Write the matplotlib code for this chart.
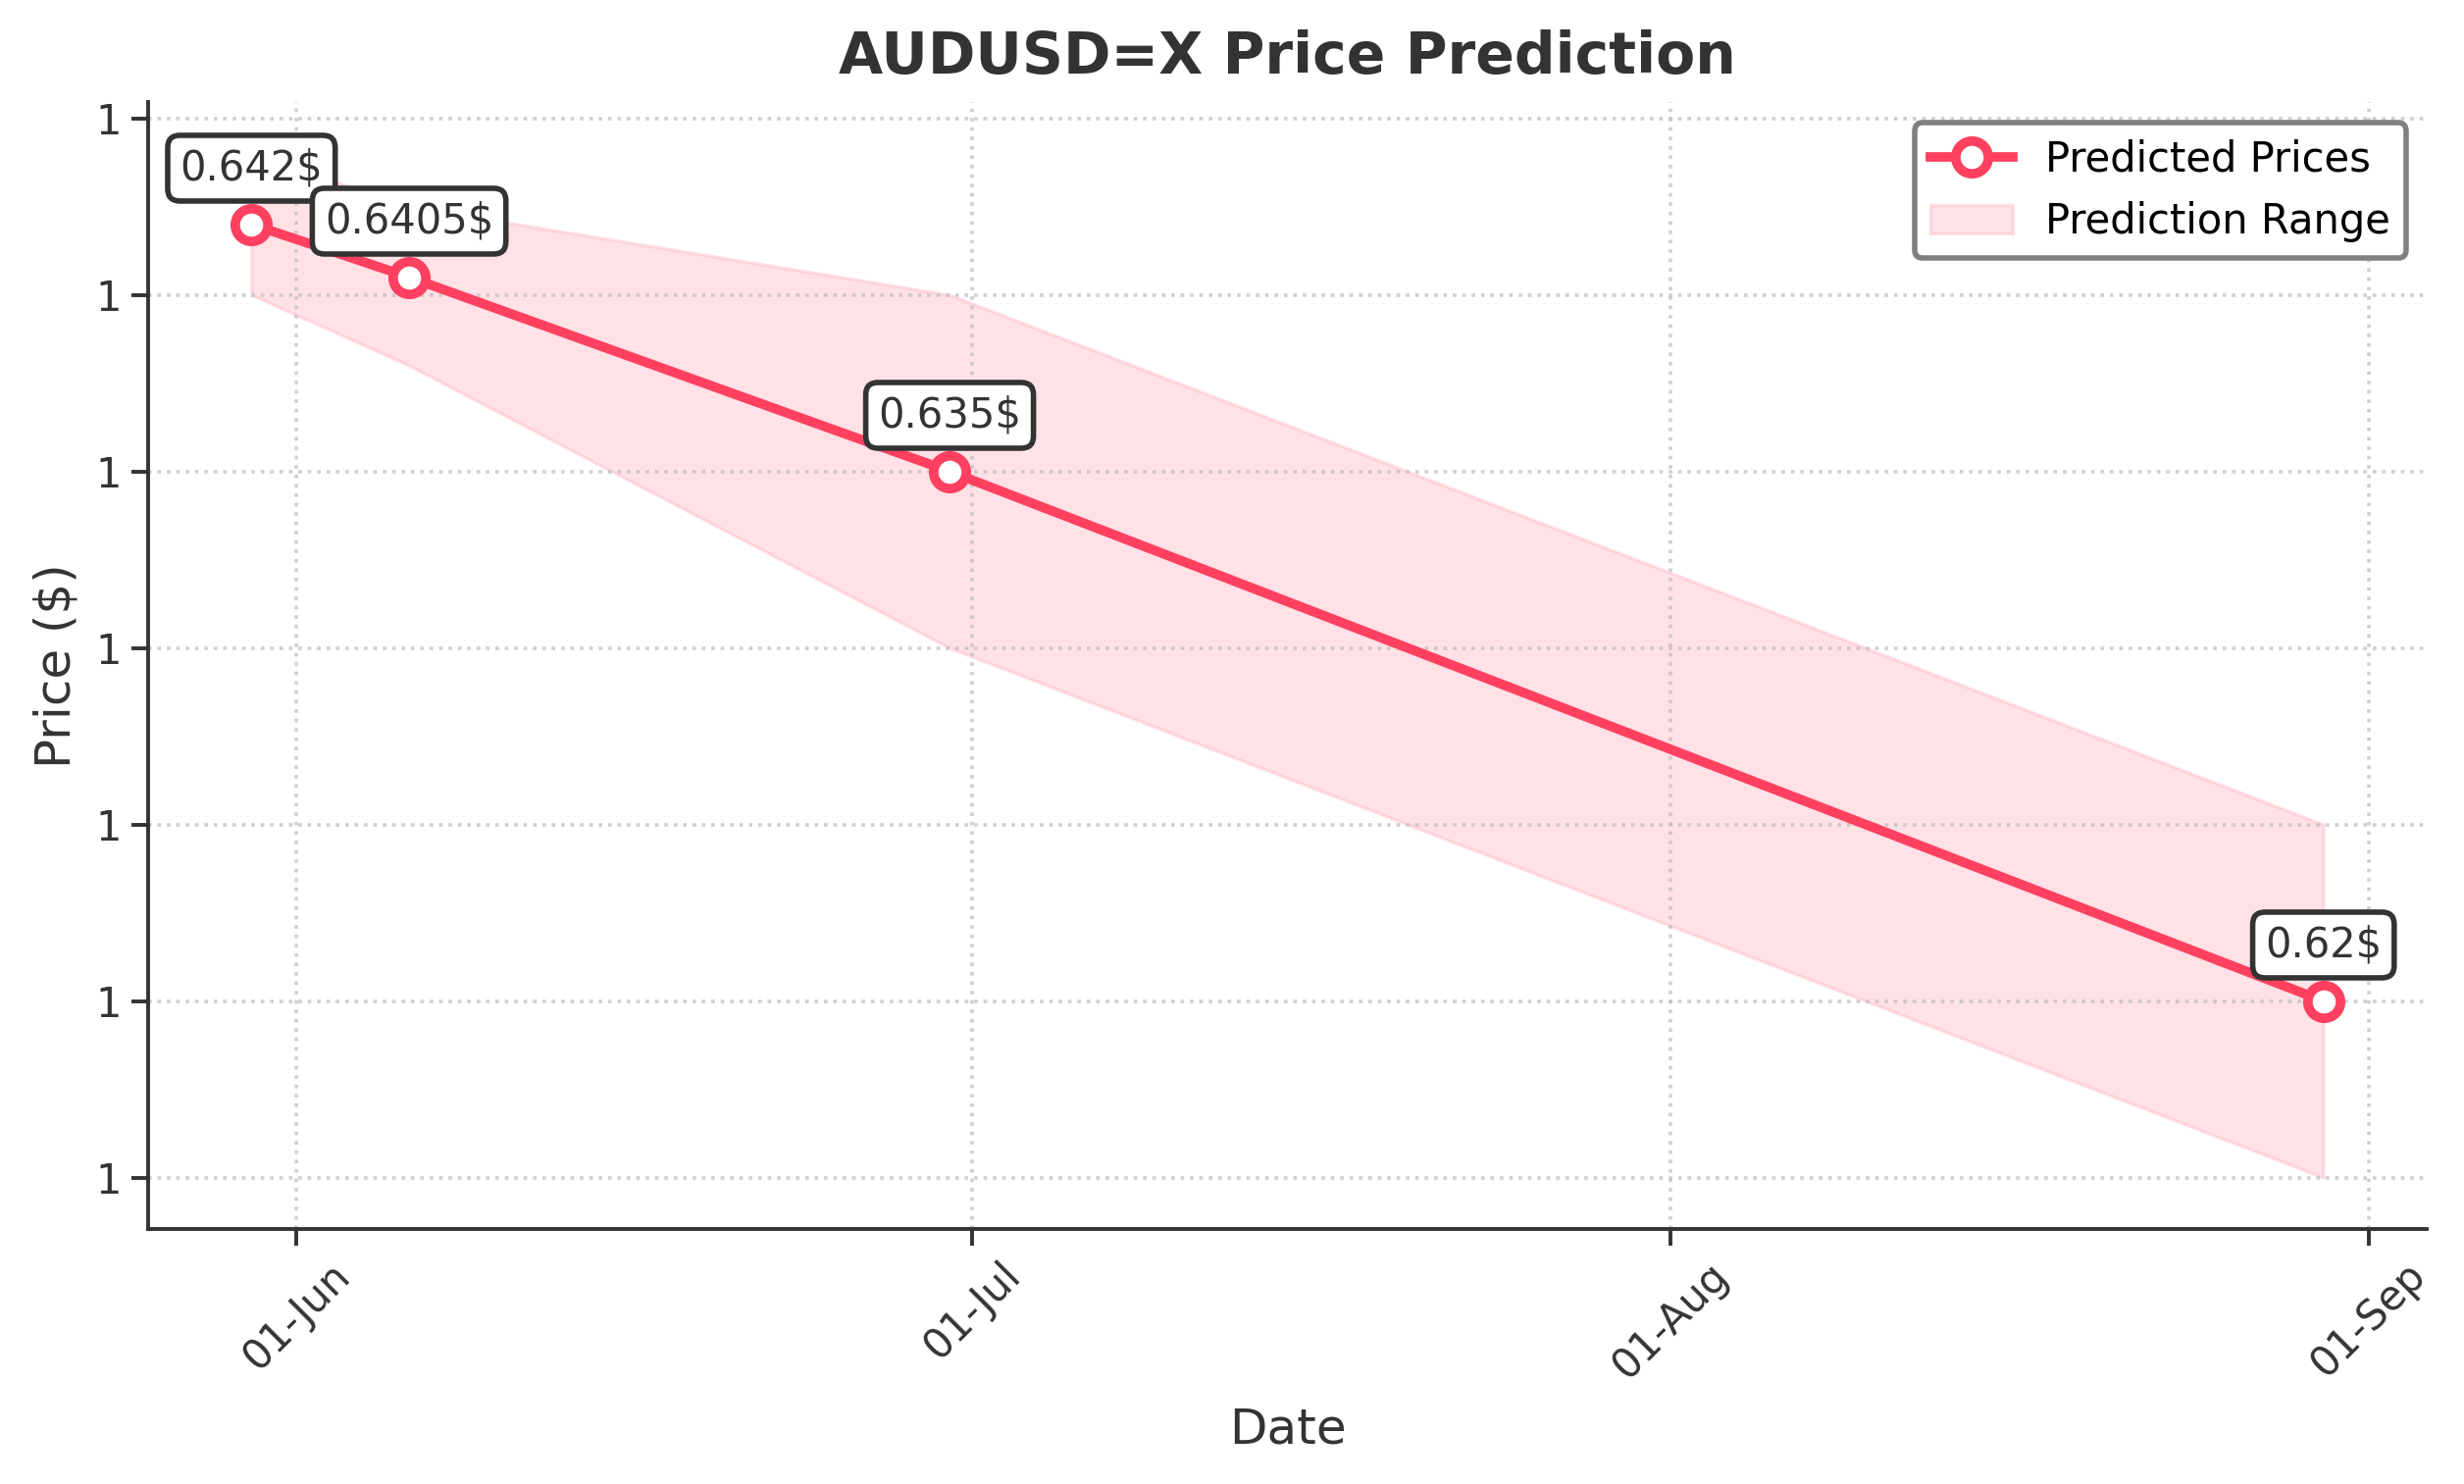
import matplotlib
matplotlib.use("Agg")
import matplotlib.pyplot as plt
import matplotlib.dates as mdates
import matplotlib.ticker as mticker
import pandas as pd

# data
dates = pd.to_datetime(["2024-05-30", "2024-06-06", "2024-06-30", "2024-08-30"])
predicted = [0.642, 0.6405, 0.635, 0.62]
upper = [0.644, 0.6425, 0.640, 0.625]
lower = [0.640, 0.638, 0.630, 0.615]

line_color = "#FF4060"
text_color = "#333333"

fig, ax = plt.subplots(figsize=(12.56, 7.565), dpi=200)
fig.subplots_adjust(left=0.06, right=0.985, top=0.931, bottom=0.172)

ax.plot(dates, predicted, color=line_color, linewidth=3.5, marker="o",
        markersize=12, markerfacecolor="white", markeredgecolor=line_color,
        markeredgewidth=3.5, label="Predicted Prices", zorder=3)
ax.fill_between(dates, lower, upper, color="#FFB6C1", alpha=0.4,
                edgecolor="#FFB6C1", linewidth=1.2, label="Prediction Range")

# value labels
for d, v in zip(dates, predicted):
    ax.annotate(f"{v}$", (d, v), xytext=(0, 13), textcoords="offset points",
                ha="center", va="bottom", fontsize=15, color=text_color,
                bbox=dict(boxstyle="round,pad=0.3", facecolor="white",
                          edgecolor=text_color, linewidth=2), zorder=4)

ax.set_title("AUDUSD=X Price Prediction", fontsize=21, fontweight="bold",
             color=text_color, pad=10.5)
ax.set_xlabel("Date", fontsize=18, color=text_color, labelpad=7)
ax.set_ylabel("Price ($)", fontsize=18, color=text_color, labelpad=6)

ax.xaxis.set_major_locator(mdates.MonthLocator())
ax.xaxis.set_major_formatter(mdates.DateFormatter("%d-%b"))
ax.yaxis.set_major_formatter(mticker.FormatStrFormatter("%.0f"))
plt.setp(ax.get_xticklabels(), rotation=45)
ax.tick_params(axis="both", labelsize=15, colors=text_color, width=1.4, length=6)

ax.grid(True, linestyle=":", color="#BBBBBB", alpha=0.7, linewidth=1.3)
ax.spines["top"].set_visible(False)
ax.spines["right"].set_visible(False)
for s in ("left", "bottom"):
    ax.spines[s].set_color(text_color)
    ax.spines[s].set_linewidth(1.4)

leg = ax.legend(loc="upper right", fontsize=15, frameon=True, fancybox=True,
                edgecolor="gray", framealpha=1)
leg.get_frame().set_linewidth(2)

fig.savefig("out.png", dpi=200)
